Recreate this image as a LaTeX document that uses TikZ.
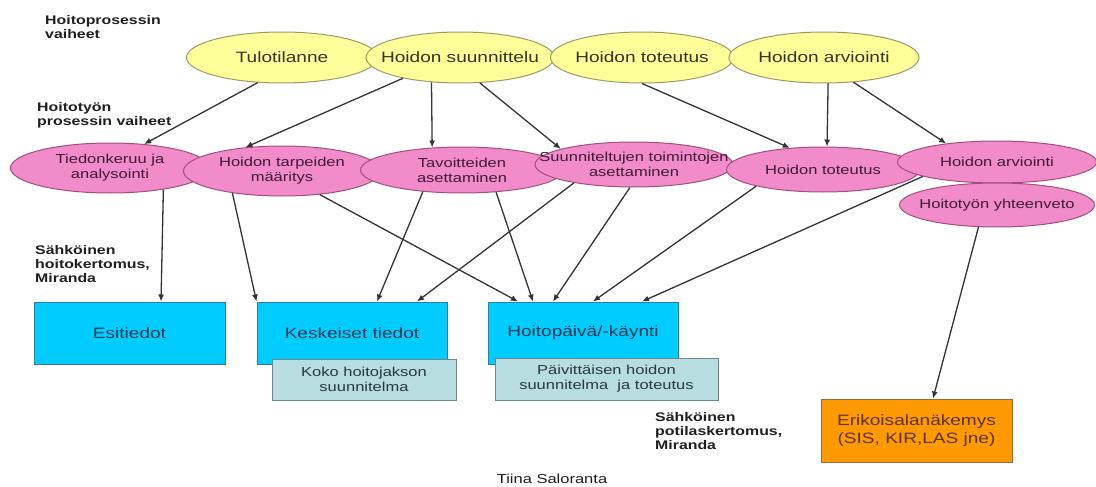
\documentclass[tikz,border=0pt]{standalone}
\usepackage{fontspec}
\setmainfont{Liberation Sans}[FakeStretch=1.27]
\usetikzlibrary{shapes.geometric,arrows.meta}
\definecolor{yfill}{HTML}{FFFF99}
\definecolor{ybord}{HTML}{9A9A66}
\definecolor{ytext}{HTML}{34341C}
\definecolor{pfill}{HTML}{F28BC9}
\definecolor{pbord}{HTML}{A0507E}
\definecolor{ptext}{HTML}{3E1A36}
\definecolor{bfill}{HTML}{00CCFF}
\definecolor{bbord}{HTML}{2E7E9E}
\definecolor{btext}{HTML}{0C3A50}
\definecolor{lfill}{HTML}{B7DDE0}
\definecolor{lbord}{HTML}{6E868E}
\definecolor{ltext}{HTML}{28383E}
\definecolor{ofill}{HTML}{FF9900}
\definecolor{obord}{HTML}{9A6A3A}
\definecolor{otext}{HTML}{5A3300}
\definecolor{arrc}{HTML}{333333}
\tikzset{
  yel/.style={ellipse, draw=ybord, fill=yfill, line width=1pt, inner sep=0pt, minimum height=51pt},
  pnk/.style={ellipse, draw=pbord, fill=pfill, line width=1pt, inner sep=0pt},
  ytx/.style={text=ytext, font=\fontsize{15}{17}\selectfont, inner sep=0pt},
  ptx/.style={text=ptext, font=\fontsize{13}{15}\selectfont, align=center, inner sep=0pt},
  bbox/.style={rectangle, draw=bbord, fill=bfill, line width=1pt, inner sep=0pt,
     minimum width=191pt, minimum height=62pt, text=btext, font=\fontsize{15}{17}\selectfont},
  lbox/.style={rectangle, draw=lbord, fill=lfill, line width=1pt, inner sep=0pt,
     minimum height=42pt, text=ltext, align=center, font=\fontsize{13}{15}\selectfont},
  obox/.style={rectangle, draw=obord, fill=ofill, line width=1pt, inner sep=0pt,
     minimum width=191pt, minimum height=63pt, text=otext, align=center, font=\fontsize{15}{18.5}\selectfont},
  ttl/.style={anchor=north west, align=left, inner sep=0pt, text=black!88,
     font=\bfseries\fontsize{12.5}{14}\selectfont},
  arr/.style={draw=arrc, line width=1.3pt, -{Latex[length=7pt,width=6pt]}}
}
\begin{document}
\begin{tikzpicture}[x=1pt,y=-1pt]
\useasboundingbox (0,0) rectangle (1096,487);
\fill[white] (0,0) rectangle (1096,487);

% yellow row
\node[yel, minimum width=191pt] (tul) at (282,57.5) {};
\node[yel, minimum width=188pt] (hsu) at (460,57.5) {};
\node[yel, minimum width=183pt] (hto) at (642,57.5) {};
\node[yel, minimum width=190pt] (har) at (824,57.5) {};
\node[ytx] at (tul) {Tulotilanne};
\node[ytx] at (hsu) {Hoidon suunnittelu};
\node[ytx] at (hto) {Hoidon toteutus};
\node[ytx] at (har) {Hoidon arviointi};

% pink row
\node[pnk, minimum width=199pt, minimum height=50pt] (tie) at (110,168) {};
\node[pnk, minimum width=197pt, minimum height=50pt] (tar) at (282,171) {};
\node[pnk, minimum width=203pt, minimum height=46pt] (tav) at (462,170) {};
\node[pnk, minimum width=198pt, minimum height=45pt] (suu) at (634,164.5) {};
\node[pnk, minimum width=193pt, minimum height=45pt] (pto) at (823,169.5) {};
\node[pnk, minimum width=199pt, minimum height=42pt] (par) at (997,162) {};
\node[pnk, minimum width=195pt, minimum height=44pt] (yht) at (997,205) {};
\node[ptx] at (tie) {Tiedonkeruu ja\\analysointi};
\node[ptx] at (tar) {Hoidon tarpeiden\\määritys};
\node[ptx] at (tav) {Tavoitteiden\\asettaminen};
\node[ptx] at (suu) {Suunniteltujen toimintojen\\asettaminen};
\node[ptx] at (pto) {Hoidon toteutus};
\node[ptx] at (par) {Hoidon arviointi};
\node[ptx] at (yht) {Hoitotyön yhteenveto};

% boxes
\node[bbox] (esi) at (129.5,333) {Esitiedot};
\node[bbox, minimum width=190pt] (kes) at (352,333) {Keskeiset tiedot};
\node[bbox, minimum width=190pt] (hpk) at (583,333) {Hoitopäivä/-käynti};
\node[lbox, minimum width=184pt, minimum height=41pt] (koko) at (364,379.5) {Koko hoitojakson\\suunnitelma};
\node[lbox, minimum width=223pt] (pai) at (606.5,379) {Päivittäisen hoidon\\suunnitelma\ \ ja toteutus};
\node[obox] (eri) at (916.5,430.5) {Erikoisalanäkemys\\(SIS, KIR,LAS jne)};

% side labels
\node[ttl] (l1) at (45,15.5) {Hoitoprosessin\\vaiheet};
\node[ttl] (l2) at (37,102.5) {Hoitotyön\\prosessin vaiheet};
\node[ttl] (l3) at (35,245.5) {Sähköinen\\hoitokertomus,\\Miranda};
\node[ttl] (l4) at (655,412.5) {Sähköinen\\potilaskertomus,\\Miranda};
\node[inner sep=0pt, text=black!88, font=\fontsize{13}{15}\selectfont] (tiina) at (552,479) {Tiina Saloranta};

% connectors upper
\draw[arr] (tul.-134) -- (tie.35);
\draw[arr] (hsu.-160) -- (tar.147);
\draw[arr] (hsu.-139) -- (tav.143.7);
\draw[arr] (hsu.-52.8) -- (suu.168);
\draw[arr] (hto.south) -- (pto.147);
\draw[arr] (har.-81) -- (pto.80);
\draw[arr] (har.-40) -- (par.160.7);

% connectors lower
\draw[arr] (tie.-22.9) -- ([xshift=31.5pt]esi.north);
\draw[arr] (tar.-156) -- (kes.north west);
\draw[arr] (tar.-32) -- ([xshift=-65pt]hpk.north);
\draw[arr] (tav.-151.5) -- ([xshift=25pt]kes.north);
\draw[arr] (tav.-33.4) -- ([xshift=-50pt]hpk.north);
\draw[arr] (suu.-163.8) -- ([xshift=65pt]kes.north);
\draw[arr] (suu.-100) -- ([xshift=-30pt]hpk.north);
\draw[arr] (pto.-166) -- ([xshift=10pt]hpk.north);
\draw[arr] (par.-169.3) -- ([xshift=59pt]hpk.north);
\draw[arr] (yht.-130.4) -- ([xshift=16.5pt]eri.north);
\end{tikzpicture}
\end{document}
